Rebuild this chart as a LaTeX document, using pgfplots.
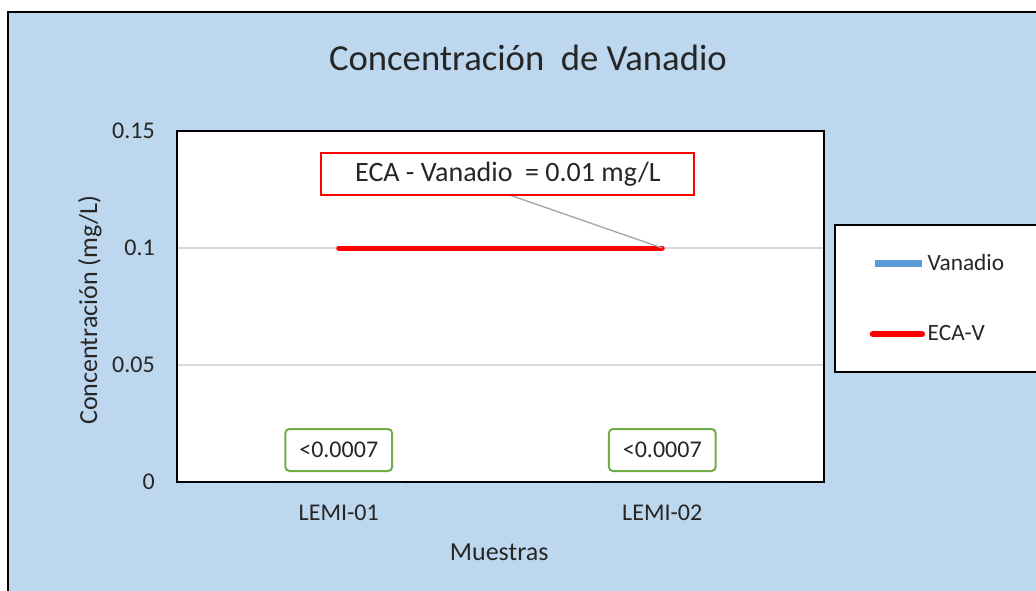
\documentclass[border=0pt]{standalone}
\usepackage{fontspec}
\setmainfont{Carlito}
\usepackage{pgfplots}
\pgfplotsset{compat=1.18}
\definecolor{fondo}{RGB}{189,215,238}
\definecolor{azulv}{RGB}{91,155,213}
\definecolor{verdeet}{RGB}{112,173,71}
\definecolor{rejilla}{RGB}{217,217,217}
\definecolor{texto}{RGB}{38,38,38}

\begin{document}
\begin{tikzpicture}
\useasboundingbox (-132.75pt,-81pt) rectangle (644.25pt,361.5pt);
% chart area
\fill[fondo] (-126.75pt,-95pt) rectangle (660pt,352.5pt);
\draw[black, line width=1.1pt] (-126.75pt,-95pt) -- (-126.75pt,352.5pt) -- (660pt,352.5pt);
\node[font=\fontsize{27.5}{33}\selectfont, text=texto] at (263.25pt,318pt) {Concentración\ \ de Vanadio};

\begin{axis}[
  at={(0pt,0pt)}, anchor=south west,
  scale only axis, width=485.25pt, height=263.25pt,
  xmin=-0.5, xmax=1.5, ymin=0, ymax=0.15,
  xtick={0,1}, xticklabels={LEMI-01,LEMI-02},
  ytick={0,0.05,0.1,0.15}, yticklabels={0,0.05,0.1,0.15},
  major tick length=0pt,
  ymajorgrids, grid style={rejilla, line width=1.2pt},
  axis line style={line width=1.6pt},
  axis background/.style={fill=white},
  tick label style={font=\fontsize{18}{21}\selectfont, text=texto},
  yticklabel style={anchor=east, inner sep=0pt, xshift=-16.5pt},
  xticklabel style={anchor=north, inner sep=0pt, yshift=-17pt},
  xlabel={Muestras}, ylabel={Concentración (mg/L)},
  label style={font=\fontsize{19.5}{23}\selectfont, text=texto},
  xlabel style={at={(axis description cs:0.498,-0.1994)}, anchor=center},
  ylabel style={at={(axis description cs:-0.1345,0.49)}, anchor=center},
  legend style={at={(1.0155,0.735)}, anchor=north west, draw=black, line width=1.5pt,
    fill=white, font=\fontsize{17.5}{20}\selectfont, text=texto,
    inner xsep=26pt, inner ysep=19.75pt, row sep=36pt, cells={anchor=west}},
]
\addplot[ybar, bar width=97pt, fill=azulv, draw=none,
  nodes near coords={<0.0007},
  nodes near coords style={anchor=south, yshift=7.5pt, draw=verdeet, line width=1.5pt,
    rounded corners=3pt, fill=white, minimum width=80pt, minimum height=31.5pt,
    font=\fontsize{18}{21}\selectfont, text=texto},
  legend image code/.code={\fill[azulv] (4pt,-2.6pt) rectangle (39pt,2.6pt);}]
  coordinates {(0,0) (1,0)};
\addlegendentry{Vanadio}
\addplot[red, line width=3.75pt, line cap=round,
  legend image code/.code={\draw[red, line width=4.5pt, line cap=round] (2pt,0) -- (39pt,0);}]
  coordinates {(0,0.1) (1,0.1)};
\addlegendentry{ECA-V}
\draw[gray!70, line width=1pt] (axis cs:0.529,0.1226) -- (axis cs:1,0.1);
\node[draw=red, line width=1.5pt, fill=white, minimum width=279.75pt, minimum height=31.5pt,
  font=\fontsize{21}{24}\selectfont, text=texto] at (axis cs:0.523,0.1316)
  {ECA - Vanadio\ \ = 0.01 mg/L};
\end{axis}
\end{tikzpicture}
\end{document}
